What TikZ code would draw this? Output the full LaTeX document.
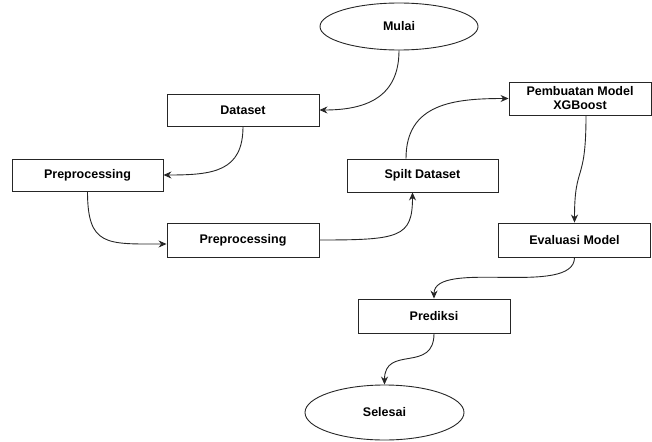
\documentclass[tikz,border=0pt]{standalone}
\usepackage{fontspec}
\setmainfont{Liberation Sans}
\usetikzlibrary{arrows.meta,shapes.geometric}
\begin{document}
\begin{tikzpicture}[x=1pt,y=-1pt,
  font=\fontsize{12.5}{14}\selectfont\bfseries,
  box/.style={draw=black!85,line width=0.9pt,rectangle,inner sep=0pt,align=center},
  oval/.style={draw=black!85,line width=0.9pt,ellipse,inner sep=0pt},
  arr/.style={draw=black!85,line width=0.9pt,-{Stealth[length=8pt,width=7pt]}}]
\useasboundingbox (0,0) rectangle (652,441);
\node[oval,minimum width=158pt,minimum height=47pt] (mulai) at (399,26.5) {Mulai};
\node[box,minimum width=152pt,minimum height=32pt] (dataset) at (243,110) {Dataset};
\node[box,minimum width=151pt,minimum height=32pt] (prep1) at (87.5,175) {Preprocessing};
\node[box,minimum width=152pt,minimum height=34pt] (prep2) at (243,240) {Preprocessing};
\node[box,minimum width=151pt,minimum height=33pt] (split) at (422.5,175.5) {Spilt Dataset};
\node[box,minimum width=142pt,minimum height=33pt] (model) at (580,98.5) {Pembuatan Model\\XGBoost};
\node[box,minimum width=152pt,minimum height=34pt] (eval) at (574.5,240) {Evaluasi Model};
\node[box,minimum width=152pt,minimum height=34pt] (pred) at (434,316) {Prediksi};
\node[oval,minimum width=159pt,minimum height=55pt] (selesai) at (384.5,412.5) {Selesai};

\draw[arr] (mulai.south) .. controls +(0,48) and +(45,0) .. (dataset.east);
\draw[arr] (dataset.south) .. controls +(0,45) and +(50,0) .. (prep1.east);
\draw[arr] (prep1.south) .. controls +(0,55) and +(-60,0) .. ([yshift=-4pt]prep2.west);
\draw[arr] (prep2.east) .. controls +(80,0) and +(0,45) .. ([xshift=-10pt]split.south);
\draw[arr] ([xshift=-16.5pt]split.north) .. controls +(0,-55) and +(-55,0) .. (model.west);
\draw[arr] ([xshift=6pt]model.south) .. controls +(0,70) and +(0,-60) .. (eval.north);
\draw[arr] (eval.south) .. controls +(0,40) and +(0,-40) .. (pred.north);
\draw[arr] (pred.south) .. controls +(0,40) and +(0,-40) .. (selesai.north);
\end{tikzpicture}
\end{document}
